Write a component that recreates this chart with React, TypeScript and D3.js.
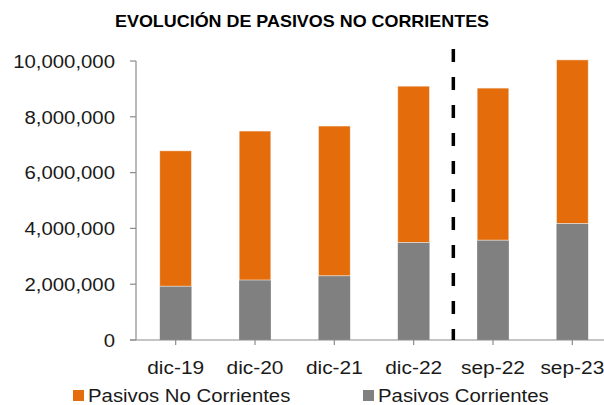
import { useEffect, useRef } from "react";
import * as d3 from "d3";

const categories = ["dic-19", "dic-20", "dic-21", "dic-22", "sep-22", "sep-23"];
const pasivosCorrientes = [1930000, 2150000, 2300000, 3500000, 3580000, 4180000];
const pasivosNoCorrientes = [4850000, 5340000, 5370000, 5600000, 5450000, 5860000];
const yTicks = [0, 2000000, 4000000, 6000000, 8000000, 10000000];
const seriesNames = ["Pasivos No Corrientes", "Pasivos Corrientes"];
const dividerBefore = "sep-22";

const W = 604;
const H = 405;
const ORANGE = "#E46C0A";
const GRAY = "#808080";
const AXIS = "#8C8C8C";
const FONT = "'Liberation Sans', Arial, sans-serif";
const STRETCH = 1.1; // the original picture is a bit wider than tall

export default function App() {
  const svgRef = useRef<SVGSVGElement | null>(null);

  useEffect(() => {
    const svg = d3.select(svgRef.current);
    svg.selectAll("*").remove();

    const x = d3.scaleBand().domain(categories).range([136, 612]).padding(0);
    const y = d3.scaleLinear().domain([0, 10000000]).range([340, 61]);
    const bw = x.bandwidth();
    const barW = bw * 0.4;

    const label = (g, tx, ty, text, size, anchor, weight = "normal") =>
      g
        .append("text")
        .attr("transform", `translate(${tx},${ty}) scale(${STRETCH},1)`)
        .attr("text-anchor", anchor)
        .attr("font-family", FONT)
        .attr("font-size", size)
        .attr("font-weight", weight)
        .attr("fill", weight === "bold" ? "#000" : "#1a1a1a")
        .text(text);

    // title
    label(svg, W / 2, 26.5, "EVOLUCIÓN DE PASIVOS NO CORRIENTES", 16.3, "middle", "bold");

    // stacked bars
    const stacked = categories.map((c, i) => ({
      cat: c,
      cur: pasivosCorrientes[i],
      non: pasivosNoCorrientes[i],
    }));

    const bars = svg.append("g");
    bars
      .selectAll("rect.cur")
      .data(stacked)
      .enter()
      .append("rect")
      .attr("x", (d) => x(d.cat) + (bw - barW) / 2)
      .attr("y", (d) => y(d.cur))
      .attr("width", barW)
      .attr("height", (d) => y(0) - y(d.cur))
      .attr("fill", GRAY);

    bars
      .selectAll("rect.non")
      .data(stacked)
      .enter()
      .append("rect")
      .attr("x", (d) => x(d.cat) + (bw - barW) / 2)
      .attr("y", (d) => y(d.cur + d.non))
      .attr("width", barW)
      .attr("height", (d) => y(d.cur) - y(d.cur + d.non))
      .attr("fill", ORANGE)
      .attr("stroke", "#f2f2f2")
      .attr("stroke-width", 0.6);

    // y axis
    const axis = svg.append("g").attr("stroke", AXIS).attr("stroke-width", 1.2);
    axis.append("line").attr("x1", 136).attr("x2", 136).attr("y1", y(10000000)).attr("y2", y(0));
    yTicks.forEach((t) => {
      axis.append("line").attr("x1", 130).attr("x2", 136).attr("y1", y(t)).attr("y2", y(t));
      label(svg, 115, y(t) + 6.7, d3.format(",")(t), 18.5, "end");
    });

    // x axis
    axis.append("line").attr("x1", 130).attr("x2", W).attr("y1", y(0)).attr("y2", y(0));
    categories.forEach((c) => {
      const cx = x(c) + bw / 2;
      axis.append("line").attr("x1", cx).attr("x2", cx).attr("y1", y(0)).attr("y2", y(0) + 5);
      label(svg, cx, 373.5, c, 19, "middle");
    });

    // dashed divider
    svg
      .append("line")
      .attr("x1", x(dividerBefore))
      .attr("x2", x(dividerBefore))
      .attr("y1", 49)
      .attr("y2", y(0))
      .attr("stroke", "#000")
      .attr("stroke-width", 3.5)
      .attr("stroke-dasharray", "13,15");

    // legend
    const legendX = [73, 363];
    const legendColors = [ORANGE, GRAY];
    seriesNames.forEach((name, i) => {
      svg
        .append("rect")
        .attr("x", legendX[i])
        .attr("y", 390)
        .attr("width", 11)
        .attr("height", 11)
        .attr("fill", legendColors[i]);
      label(svg, legendX[i] + 15, 401.5, name, 18.5, "start");
    });
  }, []);

  return (
    <svg
      ref={svgRef}
      width={W}
      height={H}
      style={{ position: "absolute", left: 0, top: 0, background: "#fff" }}
    />
  );
}
